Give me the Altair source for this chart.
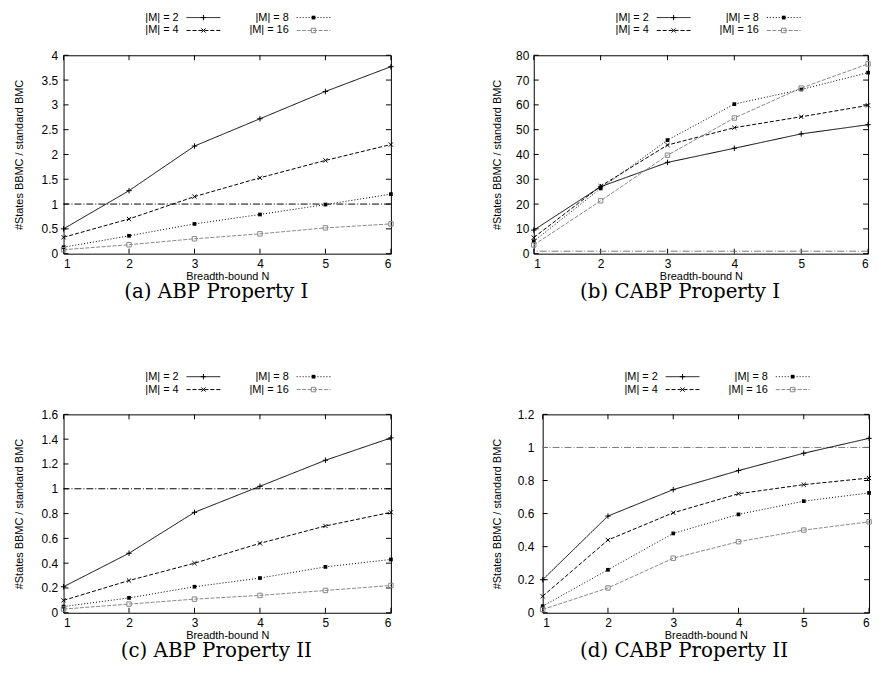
import altair as alt
import pandas as pd

N = [1, 2, 3, 4, 5, 6]
SERIES = ["|M| = 2", "|M| = 4", "|M| = 8", "|M| = 16"]

# (a) ABP Property I
a_m2 = [0.50, 1.27, 2.17, 2.72, 3.27, 3.77]
a_m4 = [0.33, 0.70, 1.15, 1.53, 1.88, 2.20]
a_m8 = [0.13, 0.36, 0.60, 0.79, 0.99, 1.20]
a_m16 = [0.08, 0.18, 0.30, 0.40, 0.52, 0.60]
a_ticks = [0, 0.5, 1, 1.5, 2, 2.5, 3, 3.5, 4]

# (b) CABP Property I
b_m2 = [9.5, 27.0, 36.8, 42.5, 48.3, 52.0]
b_m4 = [6.5, 27.2, 43.8, 50.8, 55.2, 59.8]
b_m8 = [5.0, 26.3, 45.8, 60.3, 66.2, 73.0]
b_m16 = [3.5, 21.3, 39.7, 54.7, 66.8, 76.5]
b_ticks = [0, 10, 20, 30, 40, 50, 60, 70, 80]

# (c) ABP Property II
c_m2 = [0.21, 0.48, 0.81, 1.02, 1.23, 1.41]
c_m4 = [0.10, 0.26, 0.40, 0.56, 0.70, 0.81]
c_m8 = [0.05, 0.12, 0.21, 0.28, 0.37, 0.43]
c_m16 = [0.03, 0.07, 0.11, 0.14, 0.18, 0.22]
c_ticks = [0, 0.2, 0.4, 0.6, 0.8, 1, 1.2, 1.4, 1.6]

# (d) CABP Property II
d_m2 = [0.20, 0.585, 0.745, 0.86, 0.965, 1.055]
d_m4 = [0.10, 0.44, 0.605, 0.72, 0.775, 0.815]
d_m8 = [0.04, 0.26, 0.48, 0.595, 0.675, 0.725]
d_m16 = [0.02, 0.15, 0.33, 0.43, 0.50, 0.55]
d_ticks = [0, 0.2, 0.4, 0.6, 0.8, 1, 1.2]

REF = [1]
CAPTIONS = ["(a) ABP Property I", "(b) CABP Property I",
            "(c) ABP Property II", "(d) CABP Property II"]
X_TITLE = "Breadth-bound N"
Y_TITLE = "#States BBMC / standard BMC"

SANS = "Liberation Sans"
SERIF = "DejaVu Serif"

PLUS = "M-1,0L1,0M0,-1L0,1"
XMARK = "M-1,-1L1,1M1,-1L-1,1"
STYLE = {
    "|M| = 2": dict(color="#000000", dash=[1, 0], shape=PLUS, filled=False, size=30),
    "|M| = 4": dict(color="#000000", dash=[4, 2], shape=XMARK, filled=False, size=18),
    "|M| = 8": dict(color="#000000", dash=[1, 2], shape="square", filled=True, size=14),
    "|M| = 16": dict(color="#888888", dash=[4, 1.5], shape="square", filled=False, size=20),
}


def panel(series_vals, yticks, ymax, refcolor, width, height, caption,
          lab_pad, title_pad, cap_dx):
    rows = []
    for s, vals in zip(SERIES, series_vals):
        for n, v in zip(N, vals):
            rows.append({"series": s, "N": n, "v": v})
    df = pd.DataFrame(rows)

    xscale = alt.Scale(domain=[1, 6], nice=False, zero=False)
    yscale = alt.Scale(domain=[0, ymax], nice=False, zero=False)
    xaxis = alt.Axis(values=N, format="d", title=X_TITLE, labelPadding=5,
                     titlePadding=1)
    yaxis = alt.Axis(values=yticks, format="~r", title=Y_TITLE,
                     labelPadding=lab_pad, titlePadding=title_pad)

    def X(f):
        return alt.X(f, scale=xscale, axis=xaxis)

    def Y(f):
        return alt.Y(f, scale=yscale, axis=yaxis)

    layers = []

    # inward tick marks (gnuplot style) on all four sides
    ydf = pd.DataFrame({"t": yticks})
    xdf = pd.DataFrame({"n": N})
    layers.append(alt.Chart(ydf).mark_rule(color="black", strokeWidth=1).encode(
        y=Y("t:Q"), x=alt.value(0), x2=alt.value(5)))
    layers.append(alt.Chart(ydf).mark_rule(color="black", strokeWidth=1).encode(
        y=Y("t:Q"), x=alt.value(width - 5), x2=alt.value(width)))
    layers.append(alt.Chart(xdf).mark_rule(color="black", strokeWidth=1).encode(
        x=X("n:Q"), y=alt.value(height), y2=alt.value(height - 5)))
    layers.append(alt.Chart(xdf).mark_rule(color="black", strokeWidth=1).encode(
        x=X("n:Q"), y=alt.value(0), y2=alt.value(5)))

    # reference line at ratio 1
    layers.append(alt.Chart(pd.DataFrame({"r": REF})).mark_rule(
        color=refcolor, strokeWidth=1, strokeDash=[7, 2, 1, 2]).encode(y=Y("r:Q")))

    base = alt.Chart(df)
    for s in SERIES:
        st = STYLE[s]
        sub = base.transform_filter(alt.datum.series == s)
        layers.append(sub.mark_line(color=st["color"], strokeWidth=1,
                                    strokeDash=st["dash"]).encode(x=X("N:Q"), y=Y("v:Q")))
        layers.append(sub.mark_point(shape=st["shape"], filled=st["filled"],
                                     size=st["size"], color=st["color"],
                                     strokeWidth=1, opacity=1).encode(
            x=X("N:Q"), y=Y("v:Q")))

    # gnuplot-style key above the plot: label then sample
    for i, s in enumerate(SERIES):
        st = STYLE[s]
        col, row = i // 2, i % 2
        tx = 116 if col == 0 else 227
        sx0, sx1 = tx + 8, tx + 42
        ty = -38 if row == 0 else -25
        ldf = pd.DataFrame({"label": [s]})
        layers.append(alt.Chart(ldf).mark_text(
            align="right", baseline="middle", font=SANS, fontSize=11,
            color="black").encode(x=alt.value(tx), y=alt.value(ty), text="label:N"))
        layers.append(alt.Chart(ldf).mark_rule(
            color=st["color"], strokeWidth=1, strokeDash=st["dash"]).encode(
            x=alt.value(sx0), x2=alt.value(sx1), y=alt.value(ty)))
        layers.append(alt.Chart(ldf).mark_point(
            shape=st["shape"], filled=st["filled"], size=st["size"],
            color=st["color"], strokeWidth=1, opacity=1).encode(
            x=alt.value((sx0 + sx1) / 2), y=alt.value(ty)))

    return alt.layer(*layers).properties(
        width=width, height=height,
        title=alt.TitleParams(text=caption, orient="bottom", font=SERIF,
                              fontSize=20, fontWeight="normal", color="black",
                              offset=1, dx=cap_dx))


pa = panel([a_m2, a_m4, a_m8, a_m16], a_ticks, 4, "#000000", 330, 200,
           CAPTIONS[0], 6, 17, -11)
pb = panel([b_m2, b_m4, b_m8, b_m16], b_ticks, 80, "#777777", 337, 200,
           CAPTIONS[1], 5, 13, -21)
pc = panel([c_m2, c_m4, c_m8, c_m16], c_ticks, 1.6, "#000000", 330, 200,
           CAPTIONS[2], 6, 17, -11)
pd_ = panel([d_m2, d_m4, d_m8, d_m16], d_ticks, 1.2, "#777777", 329, 200,
            CAPTIONS[3], 9, 15, -22)

chart = alt.vconcat(
    alt.hconcat(pa, pb, spacing=95),
    alt.hconcat(pc, pd_, spacing=94),
    spacing=67,
    padding={"left": 4, "top": 0, "right": 0, "bottom": 0},
).configure_view(
    stroke="black", strokeWidth=1
).configure_axis(
    domain=False, ticks=False, grid=False,
    labelFont=SANS, labelFontSize=12, labelColor="black",
    titleFont=SANS, titleFontSize=11, titleFontWeight="normal", titleColor="black",
).configure_title(
    font=SERIF
)

chart.save("out.html", embed_options={"renderer": "svg", "actions": False})
